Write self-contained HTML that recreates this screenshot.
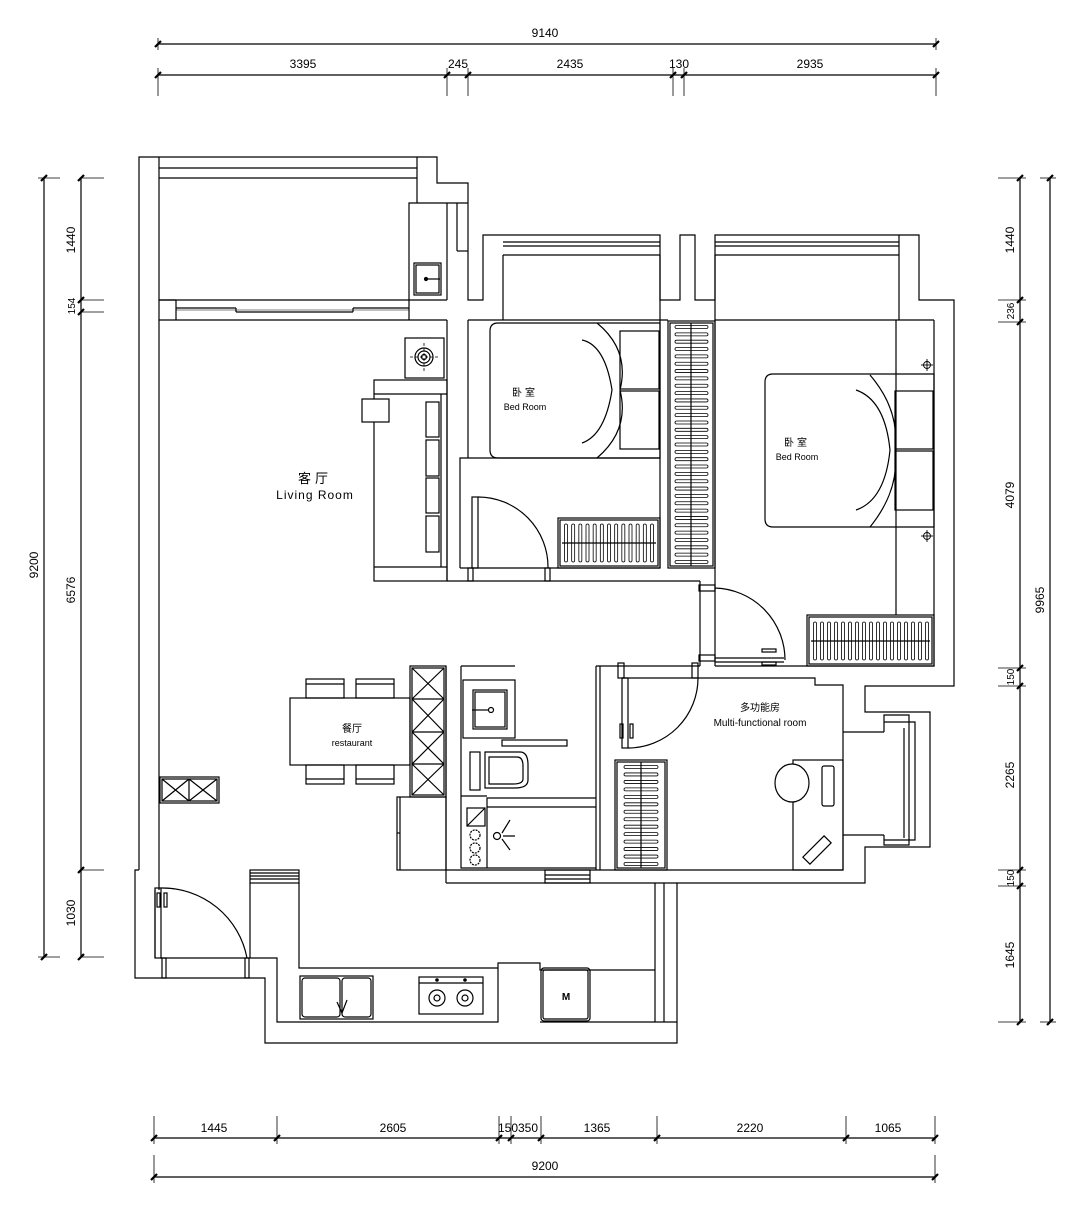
<!DOCTYPE html>
<html><head><meta charset="utf-8"><style>
html,body{margin:0;padding:0;background:#fff;}
svg{display:block;}
text{font-family:"Liberation Sans","Noto Sans CJK SC",sans-serif;fill:#000;}
</style></head><body>
<svg id="s" width="1080" height="1230" viewBox="0 0 1080 1230" xmlns="http://www.w3.org/2000/svg">
<g id="g" fill="none" stroke="#000" stroke-width="1.2">
<!-- outer top balcony -->
<polyline points="139,870 139,157 437,157 437,183 468,183 468,300 483,300 483,235 660,235 660,300 680,300 680,235 695,235 695,300 715,300 715,235 919,235 919,300 954,300 954,686 865,686 865,712 930,712 930,847 865,847 865,883 677,883 677,1043 265,1043 265,978 135,978 135,870 139,870"/>
<polyline points="159,870 159,300 176,300"/>
<line x1="159" y1="157" x2="159" y2="300"/>
<line x1="159" y1="168" x2="417" y2="168"/>
<line x1="159" y1="178" x2="417" y2="178"/>
<line x1="417" y1="157" x2="417" y2="203"/>
<polyline points="409,300 409,203 468,203"/>
<line x1="447" y1="203" x2="447" y2="300"/>
<line x1="457" y1="203" x2="457" y2="251"/>
<line x1="457" y1="251" x2="468" y2="251"/>
<line x1="159" y1="300" x2="447" y2="300"/>
<rect x="414" y="263" width="27" height="32"/>
<rect x="416" y="265" width="23" height="28"/>
<circle cx="426" cy="279" r="1.5" fill="#000"/>
<line x1="426" y1="279" x2="440" y2="279"/>
<!-- balcony window -->
<line x1="176" y1="300" x2="176" y2="320"/>
<line x1="409" y1="300" x2="409" y2="320"/>
<line x1="176" y1="308" x2="236" y2="308"/><line x1="236" y1="308" x2="236" y2="312"/>
<line x1="236" y1="312" x2="353" y2="312"/><line x1="353" y1="312" x2="353" y2="308"/>
<line x1="353" y1="308" x2="409" y2="308"/>
<line x1="176" y1="310" x2="409" y2="310" stroke-width="0.6"/>
<!-- living -->
<line x1="159" y1="320" x2="447" y2="320"/>
<line x1="447" y1="320" x2="447" y2="581"/>
<rect x="405" y="338" width="39" height="40"/>
<circle cx="424" cy="357" r="9"/><circle cx="424" cy="357" r="6"/><circle cx="424" cy="357" r="2.5"/>
<line x1="410" y1="357" x2="438" y2="357" stroke-dasharray="3,2" stroke-width="0.8"/>
<line x1="424" y1="343" x2="424" y2="371" stroke-dasharray="3,2" stroke-width="0.8"/>
<rect x="374" y="380" width="73" height="201"/>
<line x1="374" y1="394" x2="447" y2="394"/>
<line x1="374" y1="567" x2="447" y2="567"/>
<line x1="441" y1="394" x2="441" y2="567"/>
<rect x="362" y="399" width="27" height="23" fill="#fff"/>
<rect x="426" y="402" width="13" height="35"/><rect x="426" y="440" width="13" height="36"/>
<rect x="426" y="478" width="13" height="35"/><rect x="426" y="516" width="13" height="36"/>
<line x1="447" y1="581" x2="700" y2="581"/>
<!-- bedroom 1 -->
<line x1="468" y1="320" x2="468" y2="458"/>
<polyline points="503,255 503,320"/>
<line x1="503" y1="242" x2="660" y2="242"/><line x1="503" y1="246" x2="660" y2="246"/><line x1="503" y1="255" x2="660" y2="255"/>
<line x1="468" y1="320" x2="668" y2="320"/>
<line x1="660" y1="255" x2="660" y2="568"/>
<path d="M498,323 H660 V458 H498 Q490,458 490,450 V331 Q490,323 498,323 Z"/>
<rect x="620" y="331" width="39" height="58"/><rect x="620" y="391" width="39" height="58"/>
<path d="M597,323 Q630,350 620,390 M597,458 Q630,430 620,390 M582,340 Q605,345 612,390 Q605,435 582,443"/>
<polyline points="460,568 460,458 660,458"/>
<line x1="460" y1="568" x2="660" y2="568"/>
<rect x="472" y="497" width="6" height="71"/>
<path d="M478,497 A70,70 0 0 1 548,568"/>
<rect x="468" y="568" width="5" height="13"/><rect x="545" y="568" width="5" height="13"/>
<rect x="558" y="518" width="102" height="50"/><rect x="560" y="520" width="98" height="46"/>
<!-- wardrobe between -->
<rect x="668" y="321" width="47" height="247"/><rect x="670" y="323" width="43" height="243"/>
<line x1="691" y1="323" x2="691" y2="566"/>
<!-- bedroom 2 -->
<line x1="715" y1="242" x2="899" y2="242"/><line x1="715" y1="246" x2="899" y2="246"/><line x1="715" y1="255" x2="899" y2="255"/>
<line x1="899" y1="235" x2="899" y2="320"/>
<line x1="715" y1="255" x2="715" y2="666"/>
<line x1="715" y1="320" x2="934" y2="320"/>
<polyline points="934,320 934,666 715,666"/>
<line x1="896" y1="320" x2="896" y2="615"/>
<path d="M773,374 H934 V527 H773 Q765,527 765,519 V382 Q765,374 773,374 Z"/>
<rect x="895" y="391" width="38" height="58"/><rect x="895" y="451" width="38" height="59"/>
<path d="M870,375 Q900,410 895,450 M870,527 Q900,490 895,450 M856,390 Q885,400 890,450 Q885,500 856,510"/>
<g stroke-width="0.9"><circle cx="927" cy="365" r="3.5"/><line x1="921" y1="365" x2="933" y2="365"/><line x1="927" y1="359" x2="927" y2="371"/>
<circle cx="927" cy="536" r="3.5"/><line x1="921" y1="536" x2="933" y2="536"/><line x1="927" y1="530" x2="927" y2="542"/></g>
<rect x="807" y="615" width="127" height="51"/><rect x="809" y="617" width="123" height="47"/>
<line x1="700" y1="581" x2="700" y2="666"/>
<rect x="699" y="585" width="16" height="6"/><rect x="699" y="655" width="16" height="6"/>
<line x1="715" y1="658" x2="784" y2="658"/><line x1="715" y1="662" x2="784" y2="662"/>
<path d="M715,588 A72,72 0 0 1 785,660"/>
<rect x="762" y="649" width="14" height="3"/><rect x="762" y="662" width="14" height="3"/>
<!-- dining -->
<rect x="290" y="698" width="120" height="67"/>
<rect x="306" y="679" width="38" height="19"/><rect x="356" y="679" width="38" height="19"/>
<rect x="306" y="765" width="38" height="19"/><rect x="356" y="765" width="38" height="19"/>
<line x1="306" y1="684" x2="344" y2="684"/><line x1="356" y1="684" x2="394" y2="684"/>
<line x1="306" y1="779" x2="344" y2="779"/><line x1="356" y1="779" x2="394" y2="779"/>
<rect x="410" y="666" width="36" height="131"/><rect x="412" y="668" width="32" height="127"/>
<path d="M412,668 L444,699 M444,668 L412,699 M412,699 L444,732 M444,699 L412,732 M412,732 L444,764 M444,732 L412,764 M412,764 L444,795 M444,764 L412,795 M412,699 H444 M412,732 H444 M412,764 H444"/>
<rect x="397" y="797" width="49" height="73"/><line x1="400" y1="797" x2="400" y2="870"/>
<rect x="160" y="777" width="59" height="26"/><rect x="162" y="779" width="55" height="22"/>
<path d="M162,779 L189,801 M189,779 L162,801 M189,779 L217,801 M217,779 L189,801 M189,779 V801"/>
<!-- bathroom -->
<line x1="446" y1="666" x2="446" y2="883"/>
<polyline points="461,666 461,868 596,868"/>
<line x1="461" y1="666" x2="515" y2="666"/>
<rect x="463" y="680" width="52" height="58"/>
<rect x="473" y="690" width="34" height="39"/><rect x="475" y="692" width="30" height="35"/>
<circle cx="491" cy="710" r="2.5"/><line x1="472" y1="710" x2="488" y2="710"/>
<rect x="502" y="740" width="65" height="6"/>
<rect x="470" y="752" width="10" height="38"/>
<path d="M485,752 H520 Q528,752 528,765 V780 Q528,788 515,788 H485 Z M489,757 H517 Q523,757 523,766 V779 Q523,784 513,784 H489 Z"/>
<line x1="461" y1="796" x2="487" y2="796"/>
<polyline points="487,868 487,798 596,798"/><line x1="487" y1="807" x2="596" y2="807"/>
<rect x="467" y="808" width="18" height="18"/><line x1="467" y1="826" x2="485" y2="808"/>
<circle cx="475" cy="835" r="5" stroke-dasharray="2,1"/><circle cx="475" cy="848" r="5" stroke-dasharray="2,1"/><circle cx="475" cy="860" r="5" stroke-dasharray="2,1"/>
<circle cx="497" cy="836" r="3.5"/><path d="M502,833 L510,820 M503,836 L515,836 M502,839 L510,850"/>
<line x1="596" y1="666" x2="596" y2="870"/><line x1="600" y1="666" x2="600" y2="870"/>
<line x1="446" y1="870" x2="600" y2="870"/>
<line x1="446" y1="883" x2="677" y2="883"/>
<rect x="545" y="870" width="45" height="13"/><line x1="545" y1="875" x2="590" y2="875"/><line x1="545" y1="879" x2="590" y2="879"/>
<!-- multi room -->
<line x1="596" y1="666" x2="700" y2="666"/>
<rect x="618" y="663" width="6" height="15"/><rect x="692" y="663" width="6" height="15"/>
<polyline points="622,678 815,678 815,685 843,685 843,870 600,870"/>
<rect x="622" y="678" width="6" height="70"/>
<path d="M628,748 A70,70 0 0 0 698,678"/>
<rect x="620" y="724" width="3" height="14"/><rect x="630" y="724" width="3" height="14"/>
<rect x="615" y="760" width="52" height="110"/><rect x="617" y="762" width="48" height="106"/>
<line x1="641" y1="762" x2="641" y2="868"/>
<rect x="793" y="760" width="50" height="110"/>
<line x1="843" y1="732" x2="884" y2="732"/><line x1="843" y1="835" x2="884" y2="835"/>
<polyline points="884,732 884,715 909,715 909,845 884,845 884,835"/>
<polyline points="884,722 915,722 915,840 884,840"/>
<line x1="904" y1="728" x2="904" y2="838"/>
<ellipse cx="792" cy="783" rx="17" ry="19" fill="#fff"/>
<rect x="822" y="766" width="12" height="40" rx="2"/>
<rect x="812" y="835" width="10" height="30" transform="rotate(45 817 850)"/>
<!-- kitchen / entry -->
<line x1="159" y1="870" x2="159" y2="890"/>
<line x1="155" y1="890" x2="155" y2="958"/>
<rect x="155" y="888" width="6" height="70"/>
<rect x="157" y="893" width="3" height="14"/><rect x="164" y="893" width="3" height="14"/>
<path d="M161,888 A86,86 0 0 1 247,958"/>
<rect x="162" y="958" width="4" height="20"/><rect x="245" y="958" width="4" height="20"/>
<polyline points="160,958 277,958 277,1022 498,1022 498,963 540,963 540,970 655,970"/>
<rect x="250" y="870" width="49" height="13"/>
<line x1="250" y1="873" x2="299" y2="873"/><line x1="250" y1="876" x2="299" y2="876"/><line x1="250" y1="879" x2="299" y2="879"/>
<polyline points="250,883 250,958"/>
<polyline points="299,883 299,968 498,968"/>
<line x1="655" y1="883" x2="655" y2="1022"/><line x1="664" y1="883" x2="664" y2="1022"/>
<line x1="540" y1="1022" x2="677" y2="1022"/>
<rect x="300" y="976" width="73" height="43"/>
<rect x="302" y="978" width="38" height="39" rx="3"/><rect x="342" y="978" width="29" height="39" rx="3"/>
<path d="M337,1002 L342,1013 L347,1000"/>
<rect x="419" y="977" width="64" height="37"/><line x1="419" y1="983" x2="483" y2="983"/>
<circle cx="437" cy="998" r="8"/><circle cx="437" cy="998" r="3"/><circle cx="465" cy="998" r="8"/><circle cx="465" cy="998" r="3"/>
<circle cx="437" cy="980" r="1.2" fill="#000"/><circle cx="465" cy="980" r="1.2" fill="#000"/>
<rect x="541" y="968" width="49" height="53" rx="3"/><rect x="543" y="970" width="45" height="49" rx="2"/>
<line x1="400" y1="833" x2="397" y2="833"/>
<!-- dimension lines -->
<line x1="158" y1="44" x2="936" y2="44"/><line x1="158" y1="75" x2="936" y2="75"/>
<line x1="44" y1="178" x2="44" y2="957"/><line x1="81" y1="178" x2="81" y2="957"/>
<line x1="1020" y1="178" x2="1020" y2="1022"/><line x1="1050" y1="178" x2="1050" y2="1022"/>
<line x1="154" y1="1138" x2="935" y2="1138"/><line x1="154" y1="1177" x2="935" y2="1177"/>
</g>
<g id="t" stroke="#000" stroke-width="2.2"></g>
<g id="w" fill="none" stroke="#000" stroke-width="0.8"></g>
<g font-size="12" text-anchor="middle">
<text x="545" y="37">9140</text>
<text x="303" y="68">3395</text><text x="458" y="68">245</text><text x="570" y="68">2435</text><text x="679" y="68">130</text><text x="810" y="68">2935</text>
<text x="214" y="1132">1445</text><text x="393" y="1132">2605</text><text x="518" y="1132">150350</text><text x="597" y="1132">1365</text><text x="750" y="1132">2220</text><text x="888" y="1132">1065</text>
<text x="545" y="1170">9200</text>
<text transform="translate(38,565) rotate(-90)">9200</text>
<text transform="translate(75,240) rotate(-90)">1440</text>
<text transform="translate(75,306) rotate(-90)" font-size="10">154</text>
<text transform="translate(75,590) rotate(-90)">6576</text>
<text transform="translate(75,913) rotate(-90)">1030</text>
<text transform="translate(1014,240) rotate(-90)">1440</text>
<text transform="translate(1014,311) rotate(-90)" font-size="10">236</text>
<text transform="translate(1014,495) rotate(-90)">4079</text>
<text transform="translate(1014,677) rotate(-90)" font-size="10">150</text>
<text transform="translate(1014,775) rotate(-90)">2265</text>
<text transform="translate(1014,878) rotate(-90)" font-size="10">150</text>
<text transform="translate(1014,955) rotate(-90)">1645</text>
<text transform="translate(1044,600) rotate(-90)">9965</text>
<text x="315" y="483" font-size="13" letter-spacing="4">客厅</text>
<text x="315" y="499" font-size="12" letter-spacing="1">Living Room</text>
<text x="525" y="396" font-size="10" letter-spacing="3">卧室</text>
<text x="525" y="410" font-size="9">Bed Room</text>
<text x="797" y="446" font-size="10" letter-spacing="3">卧室</text>
<text x="797" y="460" font-size="9">Bed Room</text>
<text x="352" y="732" font-size="10">餐厅</text>
<text x="352" y="746" font-size="9">restaurant</text>
<text x="760" y="711" font-size="10">多功能房</text>
<text x="760" y="726" font-size="10">Multi-functional room</text>
<text x="566" y="1000" font-size="10" font-weight="bold">M</text>
</g>
</svg>
<script>
var NS="http://www.w3.org/2000/svg",t=document.getElementById('t'),w=document.getElementById('w');
function L(g,a,b,c,d,sw){var e=document.createElementNS(NS,'line');e.setAttribute('x1',a);e.setAttribute('y1',b);e.setAttribute('x2',c);e.setAttribute('y2',d);if(sw)e.setAttribute('stroke-width',sw);g.appendChild(e);}
function tick(x,y){L(t,x-3,y+3,x+3,y-3);}
[158,936].forEach(function(x){tick(x,44);L(w,x,38,x,50);});
[158,447,468,673,684,936].forEach(function(x){tick(x,75);L(w,x,68,x,96);});
[178,957].forEach(function(y){tick(44,y);L(w,38,y,60,y);});
[178,300,312,870,957].forEach(function(y){tick(81,y);L(w,81,y,104,y);});
[178,1022].forEach(function(y){tick(1050,y);L(w,1040,y,1056,y);});
[178,300,322,668,686,870,886,1022].forEach(function(y){tick(1020,y);L(w,998,y,1026,y);});
[154,277,499,511,541,657,846,935].forEach(function(x){tick(x,1138);L(w,x,1116,x,1144);});
[154,935].forEach(function(x){tick(x,1177);L(w,x,1155,x,1183);});
// hangers
function hv(x1,x2,y0,y1,n){for(var i=0;i<n;i++){var y=y0+(y1-y0)*i/(n-1);var r=document.createElementNS(NS,'rect');r.setAttribute('x',x1);r.setAttribute('y',y-1.5);r.setAttribute('width',x2-x1);r.setAttribute('height',3);r.setAttribute('rx',1.5);w.appendChild(r);}}
function hh(x0,x1,y1,y2,n){for(var i=0;i<n;i++){var x=x0+(x1-x0)*i/(n-1);var r=document.createElementNS(NS,'rect');r.setAttribute('x',x-1.5);r.setAttribute('y',y1);r.setAttribute('width',3);r.setAttribute('height',y2-y1);r.setAttribute('rx',1.5);w.appendChild(r);}}
hv(675,708,327,562,33);
hh(566,652,524,562,13);
hh(815,927,622,660,17);
hv(624,658,767,864,14);
L(w,562,543,656,543,1.2);L(w,811,641,930,641,1.2);
</script>
</body></html>
